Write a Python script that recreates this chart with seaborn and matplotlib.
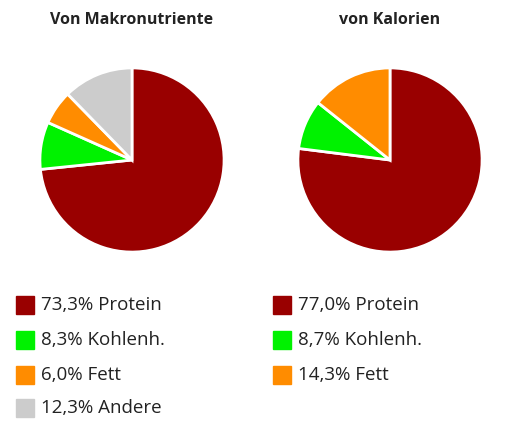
import matplotlib
matplotlib.use("Agg")
import matplotlib.pyplot as plt
import seaborn as sns
from matplotlib.patches import Rectangle

sns.set_theme(style="white")
plt.rcParams['font.family'] = ['Open Sans', 'DejaVu Sans']

titles = ["Von Makronutriente", "von Kalorien"]
labels_left = ["Protein", "Kohlenh.", "Fett", "Andere"]
values_left = [73.3, 8.3, 6.0, 12.3]
labels_right = ["Protein", "Kohlenh.", "Fett"]
values_right = [77.0, 8.7, 14.3]
colors = ["#990000", "#00f200", "#ff8c00", "#cccccc"]

W, H = 512, 443
fig = plt.figure(figsize=(W/100, H/100), dpi=100)

def pie_ax(cx, cy, r, vals, title):
    ax = fig.add_axes([(cx-r)/W, 1-(cy+r)/H, 2*r/W, 2*r/H])
    ax.pie(vals, colors=colors[:len(vals)], startangle=90, counterclock=False,
           wedgeprops=dict(edgecolor="white", linewidth=2))
    ax.set_xlim(-1.01, 1.01)
    ax.set_ylim(-1.01, 1.01)
    ax.set_aspect("equal")
    fig.text(cx/W, 1-20/H, title, ha="center", va="center", fontsize=11.5,
             fontweight="bold", color="#222222")

pie_ax(132, 160, 93, values_left, titles[0])
pie_ax(390, 160, 93, values_right, titles[1])

def legend(x0, vals, labs):
    ys = [305, 340, 375, 408]
    for i, (v, l) in enumerate(zip(vals, labs)):
        y = ys[i]
        fig.patches.append(Rectangle((x0/W, 1-(y+9)/H), 18/W, 18/H,
                                     transform=fig.transFigure, color=colors[i]))
        fig.text((x0+25)/W, 1-y/H, f"{v:.1f}".replace(".", ",") + "% " + l,
                 ha="left", va="center", fontsize=13.5, color="#222222")

legend(16, values_left, labels_left)
legend(273, values_right, labels_right)

fig.savefig("out.png", dpi=100, facecolor="white")
